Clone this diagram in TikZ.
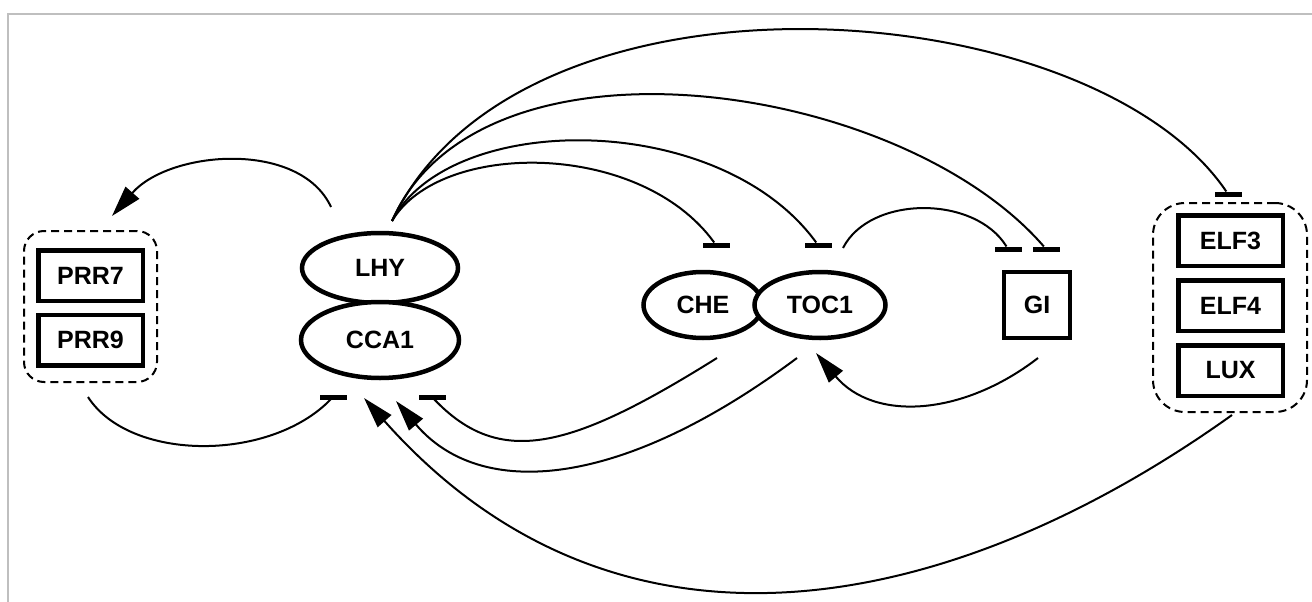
\documentclass[tikz,border=0pt]{standalone}
\usepackage{fontspec}
\setmainfont{Liberation Sans}
\usetikzlibrary{positioning,arrows.meta,shapes.geometric}

\begin{document}
\begin{tikzpicture}[x=1pt, y=-1pt, font=\bfseries\fontsize{25}{29}\selectfont,
    gene/.style={draw, line width=4.5pt, minimum width=104.5pt, minimum height=50.5pt, inner sep=0pt},
    prot/.style={draw, ellipse, line width=4.5pt, fill=white, inner sep=0pt},
    grp/.style={draw, dashed, dash pattern=on 8pt off 5pt, line width=2pt, inner sep=0pt},
    inh/.style={fill=black, minimum width=27pt, minimum height=5pt, inner sep=0pt, outer sep=0pt},
    conn/.style={line width=2pt},
    act/.style={conn, -{Triangle[length=31pt, width=18pt]}}]
    \useasboundingbox (0,0) rectangle (1312,602);
    \draw[black!25, line width=2pt] (8,602) -- (8,14) -- (1312,14);

    % PRR group
    \node[grp, rounded corners=20pt, minimum width=133pt, minimum height=151pt] (prrgrp) at (90.5,306.5) {};
    \node[gene] (prr7) at (90.5,275.5) {PRR7};
    \node[gene] (prr9) at (90.5,340) {PRR9};

    % LHY / CCA1
    \node[prot, minimum width=156pt, minimum height=70pt] (lhy) at (380,268) {LHY};
    \node[prot, minimum width=158pt, minimum height=76pt] (cca1) at (380,340) {CCA1};

    % CHE / TOC1
    \node[prot, minimum width=119pt, minimum height=66pt] (che) at (703,305) {CHE};
    \node[prot, minimum width=131pt, minimum height=66pt] (toc1) at (820,305) {TOC1};

    % GI
    \node[gene, line width=4pt, minimum width=66pt, minimum height=66pt] (gi) at (1037,305) {GI};

    % ELF group
    \node[grp, rounded corners=32pt, minimum width=154pt, minimum height=209pt] (elfgrp) at (1230,307.5) {};
    \node[gene] (elf3) at (1230.5,240.5) {ELF3};
    \node[gene] (elf4) at (1230.5,305.5) {ELF4};
    \node[gene] (lux) at (1230.5,370.5) {LUX};

    % inhibition bars
    \node[inh] (barche) at (716,245) {};
    \node[inh] (bartoc) at (818,245) {};
    \node[inh] (bargil) at (1008,249) {};
    \node[inh] (bargir) at (1046,249) {};
    \node[inh] (barelf) at (1228,194) {};
    \node[inh] (barccal) at (333,397) {};
    \node[inh] (barccar) at (432,397) {};

    % free ends
    \coordinate (lhy-o) at (331,207);
    \coordinate (prr-in) at (112,216);
    \coordinate (prr-o) at (88,397);
    \coordinate (lhy-fan) at (392,221);
    \coordinate (toc-o) at (843,248);
    \coordinate (che-o) at (717,358);
    \coordinate (toc-o2) at (797,358);
    \coordinate (gi-o) at (1038,358);
    \coordinate (toc-in) at (816,353);
    \coordinate (elf-o) at (1232,415);
    \coordinate (cca-in1) at (364,398);
    \coordinate (cca-in2) at (396,401);

    % connectors
    \draw[act] (lhy-o) .. controls (300,140) and (170,150) .. (prr-in);
    \draw[conn] (prr-o) .. controls (130,462) and (270,462) .. (barccal);
    \draw[conn] (lhy-fan) .. controls (520,-50) and (1090,-10) .. (barelf);
    \draw[conn] (lhy-fan) .. controls (480,20) and (900,80) .. (bargir);
    \draw[conn] (lhy-fan) .. controls (450,110) and (720,110) .. (bartoc);
    \draw[conn] (lhy-fan) .. controls (440,140) and (640,140) .. (barche);
    \draw[conn] (toc-o) .. controls (870,195) and (975,195) .. (bargil);
    \draw[conn] (che-o) .. controls (570,450) and (500,468) .. (barccar);
    \draw[act] (toc-o2) .. controls (620,490) and (480,500) .. (cca-in2);
    \draw[act] (gi-o) .. controls (963,416) and (874,422) .. (toc-in);
    \draw[act] (elf-o) .. controls (952,615) and (619,685) .. (cca-in1);
\end{tikzpicture}
\end{document}
